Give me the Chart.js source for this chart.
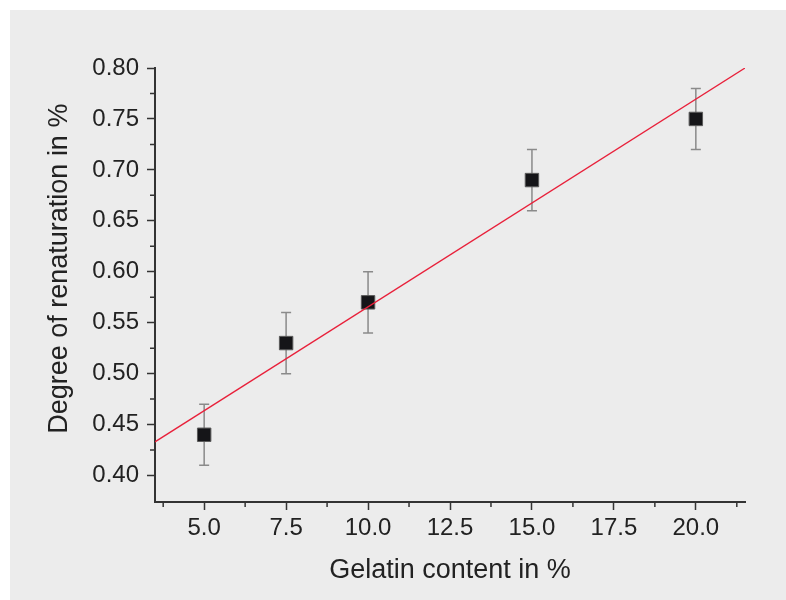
<!DOCTYPE html>
<html lang="en">
<head>
  <meta charset="UTF-8">
  <title>Degree of renaturation vs gelatin content</title>
  <script src="https://cdn.jsdelivr.net/npm/chart.js"></script>
  <style>
    body { margin: 0; background: #fff; }
    #panel { position: absolute; left: 10px; top: 10px; width: 776px; height: 590px; background: #ececec; }
  </style>
</head>
<body>
  <div id="panel"><canvas id="myChart"></canvas></div>
  <script>
    // measured points with their error ranges
    const gelatin = [5.0, 7.5, 10.0, 15.0, 20.0];
    const renaturation = [0.44, 0.53, 0.57, 0.69, 0.75];
    const errLow = [0.41, 0.50, 0.54, 0.66, 0.72];
    const errHigh = [0.47, 0.56, 0.60, 0.72, 0.78];

    // linear fit, end points at the axis limits
    const fitX = [3.5, 21.5];
    const fitY = [0.433, 0.800];

    // axes
    const xTicks = [5.0, 7.5, 10.0, 12.5, 15.0, 17.5, 20.0];
    const xMinor = [3.75, 6.25, 8.75, 11.25, 13.75, 16.25, 18.75, 21.25];
    const yTicks = [0.40, 0.45, 0.50, 0.55, 0.60, 0.65, 0.70, 0.75, 0.80];
    const yMinor = [0.425, 0.475, 0.525, 0.575, 0.625, 0.675, 0.725, 0.775];
    const yTitle = 'Degree of renaturation in %';

    const axisColor = '#333';
    const textColor = '#222';
    const fontFamily = '"Liberation Sans", Arial, sans-serif';

    // vertical error bars with small caps, drawn under the markers
    const errorBars = {
      id: 'errorBars',
      beforeDatasetsDraw(chart) {
        const { ctx, scales: { x, y } } = chart;
        ctx.save();
        ctx.strokeStyle = '#8a8a8a';
        ctx.lineWidth = 1.5;
        gelatin.forEach((g, i) => {
          const px = x.getPixelForValue(g);
          const top = y.getPixelForValue(errHigh[i]);
          const bot = y.getPixelForValue(errLow[i]);
          ctx.beginPath();
          ctx.moveTo(px, top); ctx.lineTo(px, bot);
          ctx.moveTo(px - 5, top); ctx.lineTo(px + 5, top);
          ctx.moveTo(px - 5, bot); ctx.lineTo(px + 5, bot);
          ctx.stroke();
        });
        ctx.restore();
      }
    };

    // short minor ticks on the outside of both axes, plus the y title
    // (sits a bit above the axis centre, so it is drawn by hand)
    const axisExtras = {
      id: 'axisExtras',
      afterDraw(chart) {
        const { ctx, scales: { x, y }, chartArea } = chart;
        ctx.save();
        ctx.strokeStyle = axisColor;
        ctx.lineWidth = 1.5;
        ctx.beginPath();
        xMinor.forEach(v => {
          const px = x.getPixelForValue(v);
          ctx.moveTo(px, chartArea.bottom); ctx.lineTo(px, chartArea.bottom + 5);
        });
        yMinor.forEach(v => {
          const py = y.getPixelForValue(v);
          ctx.moveTo(chartArea.left, py); ctx.lineTo(chartArea.left - 5, py);
        });
        ctx.stroke();

        ctx.translate(50, y.getPixelForValue(0.603));
        ctx.rotate(-Math.PI / 2);
        ctx.fillStyle = textColor;
        ctx.font = '27px ' + fontFamily;
        ctx.textAlign = 'center';
        ctx.textBaseline = 'middle';
        ctx.fillText(yTitle, 0, 0);
        ctx.restore();
      }
    };

    const ctx = document.getElementById('myChart').getContext('2d');
    const myChart = new Chart(ctx, {
      type: 'scatter',
      data: {
        datasets: [
          {
            label: 'Fit',
            data: fitX.map((v, i) => ({ x: v, y: fitY[i] })),
            showLine: true,
            borderColor: '#e8203a',
            borderWidth: 1.3,
            pointRadius: 0,
            fill: false
          },
          {
            label: 'Degree of renaturation',
            data: gelatin.map((v, i) => ({ x: v, y: renaturation[i] })),
            pointStyle: 'rect',
            pointRadius: 9.5,
            pointHoverRadius: 9.5,
            backgroundColor: '#151518',
            borderColor: '#5a5a5a',
            borderWidth: 1
          }
        ]
      },
      options: {
        responsive: true,
        maintainAspectRatio: false,
        animation: false,
        layout: { padding: { top: 58, right: 41, left: 0, bottom: 0 } },
        plugins: { legend: { display: false }, tooltip: { enabled: false } },
        scales: {
          x: {
            type: 'linear',
            min: 3.5,
            max: 21.5,
            afterBuildTicks: s => { s.ticks = xTicks.map(v => ({ value: v })); },
            afterFit: s => { s.height = 98; },
            grid: { drawOnChartArea: false, tickLength: 8, tickWidth: 1.5, tickColor: axisColor },
            border: { color: axisColor, width: 2 },
            ticks: {
              color: textColor,
              padding: 4,
              maxRotation: 0,
              font: { family: fontFamily, size: 24 },
              callback: v => Number(v).toFixed(1)
            },
            title: {
              display: true,
              text: 'Gelatin content in %',
              color: textColor,
              padding: { top: 0, bottom: 13 },
              font: { family: fontFamily, size: 27 }
            }
          },
          y: {
            type: 'linear',
            min: 0.374,
            max: 0.80,
            afterBuildTicks: s => { s.ticks = yTicks.map(v => ({ value: v })); },
            afterFit: s => { s.width = 145; },
            grid: { drawOnChartArea: false, tickLength: 8, tickWidth: 1.5, tickColor: axisColor },
            border: { color: axisColor, width: 2 },
            ticks: {
              color: textColor,
              padding: 8,
              font: { family: fontFamily, size: 24 },
              callback: v => Number(v).toFixed(2)
            }
          }
        }
      },
      plugins: [errorBars, axisExtras]
    });
  </script>
</body>
</html>
